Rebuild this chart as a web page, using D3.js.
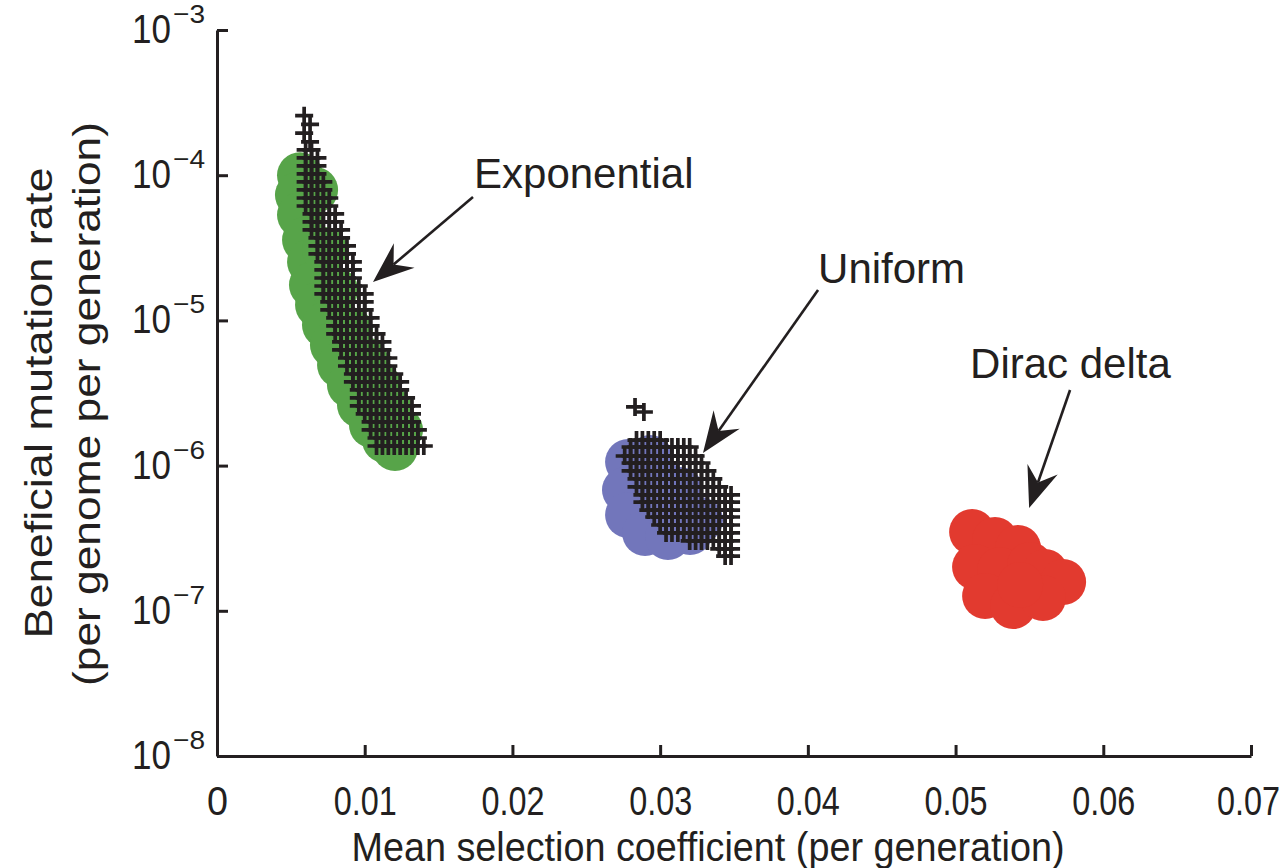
<!DOCTYPE html>
<html>
<head>
<script src="https://d3js.org/d3.v7.min.js"></script>
<style>
  body { margin: 0; background: #fff; }
  text { font-family: "Liberation Sans", Arial, Helvetica, sans-serif; fill: #231f20; }
</style>
</head>
<body>
<div id="chart"></div>
<script>
// ---- data ----
const xTicks = [0, 0.01, 0.02, 0.03, 0.04, 0.05, 0.06, 0.07];
const yTickExps = [-8, -7, -6, -5, -4, -3];

// big filled discs: [mean s, log10 U]
const expBlobs = [
  [0.00562, -4.000], [0.00548, -4.136], [0.00562, -4.274], [0.00596, -4.446],
  [0.00630, -4.598], [0.00643, -4.756], [0.00684, -4.894], [0.00731, -5.032],
  [0.00785, -5.169], [0.00833, -5.307], [0.00900, -5.445], [0.00968, -5.583],
  [0.01049, -5.720], [0.01137, -5.824], [0.01205, -5.879],
  [0.00664, -4.102], [0.00731, -4.515], [0.00799, -4.791], [0.00900, -5.066],
  [0.01002, -5.273], [0.01090, -5.445], [0.01171, -5.617], [0.01239, -5.755]
];
const uniBlobs = [
  [0.02783, -5.975], [0.02932, -5.948], [0.02762, -6.168], [0.02783, -6.340],
  [0.02898, -6.464], [0.03053, -6.492], [0.03202, -6.457], [0.03270, -6.375],
  [0.02999, -6.237], [0.03135, -6.168], [0.02965, -6.065]
];
const diracBlobs = [
  [0.05112, -6.457], [0.05267, -6.512], [0.05423, -6.567], [0.05132, -6.698],
  [0.05301, -6.719], [0.05504, -6.685], [0.05606, -6.733], [0.05728, -6.802],
  [0.05200, -6.898], [0.05389, -6.967], [0.05592, -6.912], [0.05437, -6.822]
];

// "+" marks sit on a parameter grid: rows of [log10 U, s from, s to]
const gridStep = 0.0004;
const expPlusRows = [
  [-3.826, 0.0058, 0.0065], [-3.881, 0.0058, 0.0068], [-3.936, 0.0058, 0.0069],
  [-3.991, 0.0058, 0.0071], [-4.046, 0.0058, 0.0072], [-4.101, 0.0059, 0.0074],
  [-4.157, 0.0060, 0.0077], [-4.212, 0.0060, 0.0079], [-4.267, 0.0062, 0.0080],
  [-4.322, 0.0063, 0.0083], [-4.377, 0.0064, 0.0084], [-4.432, 0.0065, 0.0086],
  [-4.487, 0.0066, 0.0088], [-4.542, 0.0067, 0.0090], [-4.597, 0.0069, 0.0092],
  [-4.652, 0.0070, 0.0093], [-4.708, 0.0070, 0.0095], [-4.763, 0.0072, 0.0097],
  [-4.818, 0.0072, 0.0100], [-4.873, 0.0074, 0.0101], [-4.928, 0.0075, 0.0103],
  [-4.983, 0.0077, 0.0105], [-5.038, 0.0079, 0.0107], [-5.093, 0.0080, 0.0109],
  [-5.148, 0.0082, 0.0112], [-5.203, 0.0083, 0.0114], [-5.259, 0.0085, 0.0116],
  [-5.314, 0.0087, 0.0119], [-5.369, 0.0089, 0.0122], [-5.424, 0.0091, 0.0125],
  [-5.479, 0.0093, 0.0127], [-5.534, 0.0094, 0.0130], [-5.589, 0.0096, 0.0132],
  [-5.644, 0.0098, 0.0133], [-5.699, 0.0101, 0.0135], [-5.754, 0.0103, 0.0137],
  [-5.810, 0.0106, 0.0139], [-5.865, 0.0108, 0.0141]
];
const expPlusExtra = [[0.0059, -3.59], [0.0059, -3.71], [0.0063, -3.65], [0.0063, -3.77]];

const uniPlusRows = [
  [-5.824, 0.0282, 0.0303], [-5.872, 0.0277, 0.0322], [-5.934, 0.0276, 0.0325],
  [-5.982, 0.0278, 0.0330], [-6.037, 0.0280, 0.0334], [-6.092, 0.0282, 0.0338],
  [-6.147, 0.0284, 0.0342], [-6.202, 0.0286, 0.0351], [-6.251, 0.0288, 0.0351],
  [-6.306, 0.0290, 0.0351], [-6.354, 0.0293, 0.0351], [-6.409, 0.0297, 0.0351],
  [-6.464, 0.0302, 0.0351], [-6.519, 0.0320, 0.0351], [-6.574, 0.0337, 0.0351],
  [-6.623, 0.0341, 0.0351]
];
const uniPlusExtra = [[0.0283, -5.596], [0.0289, -5.631]];

// labels with arrows: text anchor and arrow [s, log10 U]
const labels = ["Exponential", "Uniform", "Dirac delta"];
const labelPos = [[0.0174, -4.088], [0.04069, -4.742], [0.05098, -5.397]];
const arrowFrom = [[0.01733, -4.150], [0.04069, -4.791], [0.05775, -5.479]];
const arrowTo = [[0.01056, -4.736], [0.0329, -5.913], [0.05498, -6.292]];

// ---- drawing ----
const W = 1286, H = 868;
const ink = "#231f20";

const svg = d3.select("#chart").append("svg")
    .attr("width", W)
    .attr("height", H);

const x = d3.scaleLinear().domain([0, 0.07]).range([217, 1251]);
const y = d3.scaleLog().domain([1e-8, 1e-3]).range([756, 30]);
const py = lg => y(Math.pow(10, lg));

function gridPoints(rows, step) {
    const pts = [];
    rows.forEach(([lg, s0, s1]) => {
        for (let k = Math.ceil(s0 / step - 1e-6); k <= Math.floor(s1 / step + 1e-6); k++) {
            pts.push([k * step, lg]);
        }
    });
    return pts;
}

function blobs(data, color) {
    svg.append("g").selectAll("circle")
        .data(data)
        .enter().append("circle")
        .attr("cx", d => x(d[0]))
        .attr("cy", d => py(d[1]))
        .attr("r", 23)
        .attr("fill", color);
}

function pluses(data) {
    svg.append("g").selectAll("path")
        .data(data)
        .enter().append("path")
        .attr("d", "M-9,0H9M0,-9V9")
        .attr("transform", d => `translate(${x(d[0])},${py(d[1])})`)
        .attr("stroke", ink)
        .attr("stroke-width", 3.7)
        .attr("fill", "none");
}

blobs(expBlobs, "#57a449");
pluses(gridPoints(expPlusRows, gridStep).concat(expPlusExtra));
blobs(uniBlobs, "#7276bb");
pluses(gridPoints(uniPlusRows, gridStep).concat(uniPlusExtra));
blobs(diracBlobs, "#e23a2f");

// axes
const xAxis = svg.append("g")
    .attr("transform", "translate(0,756)")
    .call(d3.axisBottom(x).tickValues(xTicks)
        .tickSizeInner(-11).tickSizeOuter(0).tickPadding(31)
        .tickFormat(d => d === 0 ? "0" : d3.format(".2f")(d)));

const yAxis = svg.append("g")
    .attr("transform", "translate(217,0)")
    .call(d3.axisLeft(y).tickValues(yTickExps.map(e => Math.pow(10, e)))
        .tickSizeInner(-11).tickSizeOuter(0).tickFormat(""));

[xAxis, yAxis].forEach(g => {
    g.select(".domain").attr("stroke", ink).attr("stroke-width", 3);
    g.selectAll(".tick line").attr("stroke", ink).attr("stroke-width", 3);
});
xAxis.selectAll(".tick text")
    .attr("fill", ink)
    .style("font-size", "40px")
    .attr("dx", d => d === 0.07 ? -3 : 0)
    .attr("textLength", d => d === 0 ? 21 : 63)
    .attr("lengthAdjust", "spacingAndGlyphs");

// y tick labels 10^e
const yl = svg.append("g").selectAll("g")
    .data(yTickExps)
    .enter().append("g")
    .attr("transform", d => `translate(0,${py(d)})`);
yl.append("text")
    .attr("x", 171).attr("y", 13)
    .attr("text-anchor", "end")
    .style("font-size", "40px")
    .attr("textLength", 39).attr("lengthAdjust", "spacingAndGlyphs")
    .text("10");
yl.append("text")
    .attr("x", 173).attr("y", -7)
    .style("font-size", "26px")
    .attr("textLength", 32).attr("lengthAdjust", "spacingAndGlyphs")
    .text(d => "\u2212" + Math.abs(d));

// axis titles
svg.append("text")
    .attr("x", 708).attr("y", 861)
    .attr("text-anchor", "middle")
    .style("font-size", "40px")
    .attr("textLength", 713).attr("lengthAdjust", "spacingAndGlyphs")
    .text("Mean selection coefficient (per generation)");

svg.append("text")
    .attr("transform", "translate(52,403) rotate(-90)")
    .attr("text-anchor", "middle")
    .style("font-size", "39px")
    .attr("textLength", 471).attr("lengthAdjust", "spacingAndGlyphs")
    .text("Beneficial mutation rate");
svg.append("text")
    .attr("transform", "translate(100,404) rotate(-90)")
    .attr("text-anchor", "middle")
    .style("font-size", "39px")
    .attr("textLength", 564).attr("lengthAdjust", "spacingAndGlyphs")
    .text("(per genome per generation)");

// annotations
labels.forEach((lab, i) => {
    svg.append("text")
        .attr("x", x(labelPos[i][0]))
        .attr("y", py(labelPos[i][1]))
        .style("font-size", "42px")
        .text(lab);

    const x0 = x(arrowFrom[i][0]), y0 = py(arrowFrom[i][1]);
    const x1 = x(arrowTo[i][0]), y1 = py(arrowTo[i][1]);
    const len = Math.hypot(x0 - x1, y0 - y1);
    const ux = (x0 - x1) / len, uy = (y0 - y1) / len;
    const nx = -uy, ny = ux;
    const L = 41, hw = 16, notch = 27;
    svg.append("line")
        .attr("x1", x0).attr("y1", y0)
        .attr("x2", x1 + ux * notch).attr("y2", y1 + uy * notch)
        .attr("stroke", ink).attr("stroke-width", 2.6);
    svg.append("path")
        .attr("d", `M${x1},${y1}L${x1 + ux * L + nx * hw},${y1 + uy * L + ny * hw}` +
            `L${x1 + ux * notch},${y1 + uy * notch}L${x1 + ux * L - nx * hw},${y1 + uy * L - ny * hw}Z`)
        .attr("fill", ink);
});
</script>
</body>
</html>
